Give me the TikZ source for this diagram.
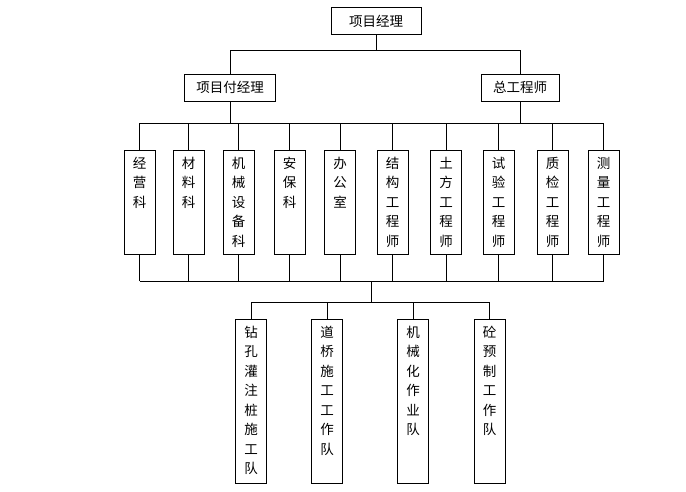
\documentclass[tikz,border=0pt]{standalone}
\usepackage{fontspec}
\setmainfont{Noto Sans CJK SC}
\usepackage{tikz}
\usetikzlibrary{positioning}
\usetikzlibrary{calc}
\tikzstyle{headbox} = [draw, rectangle, inner sep=0pt, minimum height=27, font=\fontsize{13.5}{16}\selectfont]
\tikzstyle{colbox} = [draw, rectangle, anchor=north, inner sep=0pt, minimum width=31, text width=31, align=center, text height=18, font=\fontsize{13.5}{19.5}\selectfont]

\begin{document}
\begin{tikzpicture}[
    x = 1pt, y = -1pt, line width = 0.8pt
  ]
  \useasboundingbox (0,0) rectangle (686,492);

  % heads
  \node[headbox, minimum width = 90] (xmjl) at (376,21) {项目经理};
  \node[headbox, minimum width = 91] (xmfjl) at (230,87.5) {项目付经理};
  \node[headbox, minimum width = 78] (zgcs) at (520,87.5) {总工程师};

  % departments
  \node[colbox, text depth = 86] (jyk)   at (139.5,150) {经\\营\\科};
  \node[colbox, text depth = 86] (clk)   at (188.5,150) {材\\料\\科};
  \node[colbox, text depth = 86] (jxsbk) at (238.5,150) {机\\械\\设\\备\\科};
  \node[colbox, text depth = 86] (abk)   at (289.5,150) {安\\保\\科};
  \node[colbox, text depth = 86] (bgs)   at (340,150)   {办\\公\\室};
  \node[colbox, text depth = 86] (jggcs) at (392.5,150) {结\\构\\工\\程\\师};
  \node[colbox, text depth = 86] (tfgcs) at (446,150)   {土\\方\\工\\程\\师};
  \node[colbox, text depth = 86] (sygcs) at (498.5,150) {试\\验\\工\\程\\师};
  \node[colbox, text depth = 86] (zjgcs) at (552.5,150) {质\\检\\工\\程\\师};
  \node[colbox, text depth = 86] (clgcs) at (603.5,150) {测\\量\\工\\程\\师};

  % teams
  \node[colbox, text depth = 146] (zkd) at (251,319)   {钻\\孔\\灌\\注\\桩\\施\\工\\队};
  \node[colbox, text depth = 146] (dqd) at (327,319)   {道\\桥\\施\\工\\工\\作\\队};
  \node[colbox, text depth = 146] (jxd) at (413,319)   {机\\械\\化\\作\\业\\队};
  \node[colbox, text depth = 146] (tyd) at (489.5,319) {砼\\预\\制\\工\\作\\队};

  % bars
  \coordinate (bar1) at (0,50);
  \coordinate (bar2) at (0,123);
  \coordinate (bar3) at (0,281);
  \coordinate (bar4) at (0,302);
  \coordinate (mid) at ($(jyk.south |- bar3)!0.5!(clgcs.south |- bar3)$);

  % lines
  \draw (xmjl.south) -- (xmjl.south |- bar1);
  \draw (xmfjl.north) -- (xmfjl.north |- bar1) -- (zgcs.north |- bar1) -- (zgcs.north);
  \draw (xmfjl.south) -- (xmfjl.south |- bar2);
  \draw (zgcs.south) -- (zgcs.south |- bar2);
  \draw (jyk.north |- bar2) -- (clgcs.north |- bar2);
  \draw (jyk.south |- bar3) -- (clgcs.south |- bar3);
  \foreach \n in {jyk, clk, jxsbk, abk, bgs, jggcs, tfgcs, sygcs, zjgcs, clgcs} {
    \draw (\n.north) -- (\n.north |- bar2);
    \draw (\n.south) -- (\n.south |- bar3);
  }
  \draw (mid) -- (mid |- bar4);
  \draw (zkd.north |- bar4) -- (tyd.north |- bar4);
  \foreach \n in {zkd, dqd, jxd, tyd}
    \draw (\n.north) -- (\n.north |- bar4);
\end{tikzpicture}
\end{document}
